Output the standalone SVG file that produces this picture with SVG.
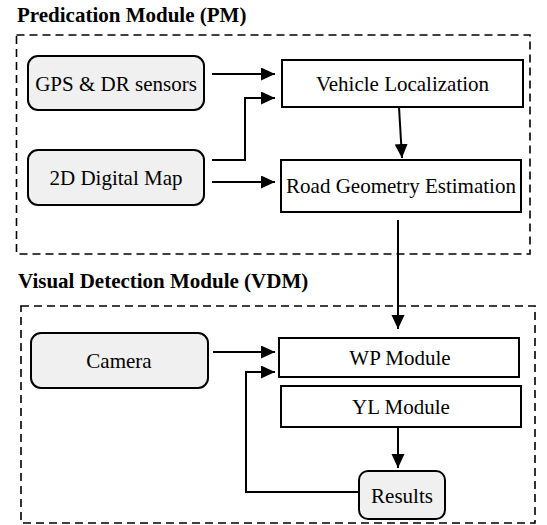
<svg xmlns="http://www.w3.org/2000/svg" width="547" height="525" viewBox="0 0 547 525">
<defs>
<marker id="ah" markerUnits="userSpaceOnUse" markerWidth="15" markerHeight="14" refX="14" refY="6.5" orient="auto">
<path d="M0,0 L14,6.5 L0,13 z" fill="#000"/>
</marker>
</defs>
<rect width="547" height="525" fill="#fff"/>
<g font-family="Liberation Serif" font-size="21" fill="#000">
<g id="pm-module">
<text x="17" y="22" font-weight="bold">Predication Module (PM)</text>
<rect x="16.5" y="35" width="513.5" height="219" fill="none" stroke="#000" stroke-width="1.6" stroke-dasharray="8,5"/>
</g>
<g id="vdm-module">
<text x="18" y="288" font-weight="bold">Visual Detection Module (VDM)</text>
<rect x="21" y="306" width="514" height="217" fill="none" stroke="#000" stroke-width="1.6" stroke-dasharray="8,5"/>
</g>
<g text-anchor="middle" stroke-width="2">
<g id="gps">
<rect x="28" y="56" width="176" height="54" rx="10" fill="#f0f0f0" stroke="#000"/>
<text x="116" y="91">GPS &amp; DR sensors</text>
</g>
<g id="map">
<rect x="28" y="150" width="176" height="55" rx="10" fill="#f0f0f0" stroke="#000"/>
<text x="116" y="185">2D Digital Map</text>
</g>
<g id="vehicle">
<rect x="282" y="60" width="241" height="47" fill="#fff" stroke="#000"/>
<text x="402.5" y="91">Vehicle Localization</text>
</g>
<g id="road">
<rect x="281" y="160" width="240" height="52" fill="#fff" stroke="#000"/>
<text x="401" y="193">Road Geometry Estimation</text>
</g>
<g id="camera">
<rect x="31" y="333" width="177" height="55" rx="10" fill="#f0f0f0" stroke="#000"/>
<text x="119" y="368">Camera</text>
</g>
<g id="wp">
<rect x="279" y="338" width="240" height="39" fill="#fff" stroke="#000"/>
<text x="400" y="365">WP Module</text>
</g>
<g id="yl">
<rect x="281" y="386" width="240" height="41" fill="#fff" stroke="#000"/>
<text x="401" y="414">YL Module</text>
</g>
<g id="results">
<rect x="359" y="471" width="86" height="48" rx="9" fill="#f0f0f0" stroke="#000"/>
<text x="402" y="503">Results</text>
</g>
</g>
</g>
<g id="connectors" fill="none" stroke="#000" stroke-width="2" marker-end="url(#ah)">
<line x1="212" y1="74" x2="275" y2="74"/>
<polyline points="212,160 245,160 245,98 275,98"/>
<line x1="212" y1="182" x2="275" y2="182"/>
<line x1="399" y1="107" x2="402" y2="158"/>
<line x1="398" y1="220" x2="398" y2="329"/>
<line x1="213" y1="352" x2="275" y2="352"/>
<polyline points="359,492 246,492 246,372 275,372"/>
<line x1="398" y1="427" x2="398" y2="468"/>
</g>
</svg>
